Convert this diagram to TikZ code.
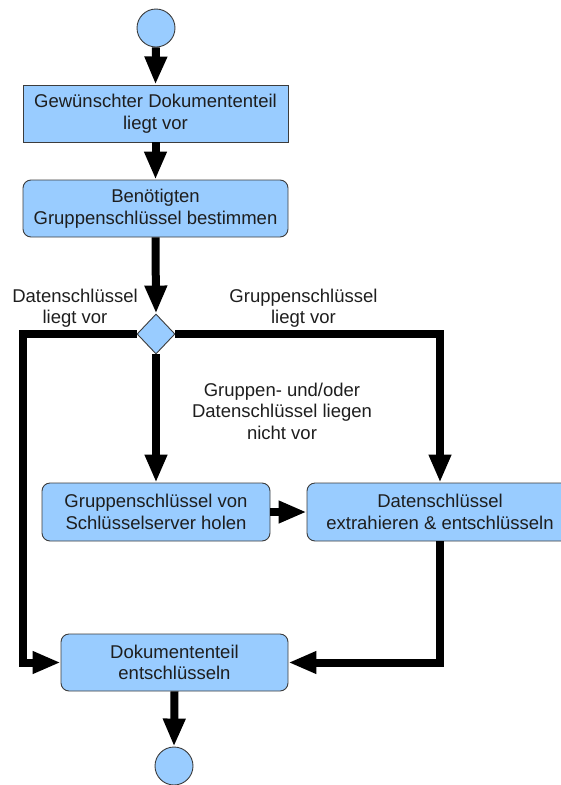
\documentclass[tikz,border=0pt]{standalone}
\usepackage{fontspec}
\setmainfont{Liberation Sans}
\usetikzlibrary{arrows.meta,shapes.geometric}
\definecolor{boxfill}{HTML}{99CCFF}
\definecolor{boxdraw}{HTML}{3C3C3C}
\definecolor{txt}{HTML}{1E1E1E}
\tikzset{
  box/.style={draw=boxdraw, line width=0.9pt, fill=boxfill, inner sep=0pt, align=center,
    text=txt, font=\fontsize{18.5}{21.5}\selectfont},
  rbox/.style={box, rounded corners=8pt},
  term/.style={circle, draw=boxdraw, line width=0.9pt, fill=boxfill, minimum size=38pt, inner sep=0pt},
  dec/.style={diamond, draw=boxdraw, line width=0.9pt, fill=boxfill, minimum width=38pt, minimum height=40pt, inner sep=0pt},
  flow/.style={line width=8pt, -{Triangle[width=21pt,length=28pt]}},
  flowplain/.style={line width=8pt},
  lbl/.style={align=center, text=txt, font=\fontsize{18.5}{21.5}\selectfont, inner sep=0pt}
}
\begin{document}
\begin{tikzpicture}[x=1pt,y=-1pt]
\useasboundingbox (0,0) rectangle (561,785);
\node[term] (start) at (156,28) {};
\node[box, minimum width=265pt, minimum height=57pt] (b1) at (155.5,113.5) {Gewünschter Dokumententeil\\liegt vor};
\node[rbox, minimum width=265pt, minimum height=57pt] (b2) at (155.5,208.5) {Benötigten\\Gruppenschlüssel bestimmen};
\node[dec] (d) at (156,334) {};
\node[rbox, minimum width=228pt, minimum height=58pt] (b3) at (156,512) {Gruppenschlüssel von\\Schlüsselserver holen};
\node[rbox, minimum width=266pt, minimum height=58pt] (b4) at (440,512) {Datenschlüssel\\extrahieren \& entschlüsseln};
\node[rbox, minimum width=227pt, minimum height=57pt] (b5) at (174.5,662.5) {Dokumententeil\\entschlüsseln};
\node[term] (end) at (174,766) {};
\coordinate (lc) at (22.5,334);

\node[lbl] (l1) at (75,308) {Datenschlüssel\\liegt vor};
\node[lbl] (l2) at (303.5,308) {Gruppenschlüssel\\liegt vor};
\node[lbl] (l3) at (282,411) {Gruppen- und/oder\\Datenschlüssel liegen\\nicht vor};

\draw[flow] (start.south) -- (b1.north);
\draw[flow] (b1.south) -- (b2.north);
\draw[flow] (b2.south) -- (d.north);
\draw[flow] (d.south) -- (b3.north);
\draw[flow] (d.east) -| (b4.north);
\draw[flow] (d.west) -- (lc) |- (b5.west);
\draw[flow] (b3.east) -- (b4.west);
\draw[flow] (b4.south) |- (b5.east);
\draw[flow] (b5.south) -- (end.north);
\end{tikzpicture}
\end{document}
